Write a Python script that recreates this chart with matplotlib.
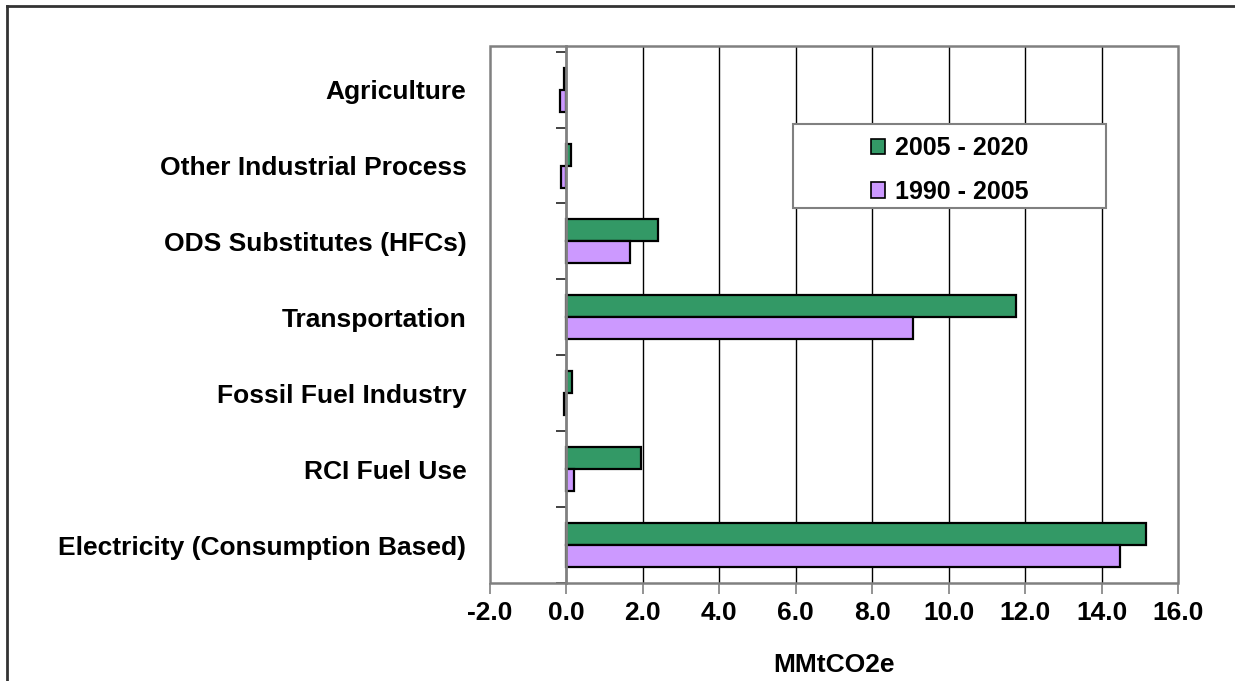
import matplotlib
matplotlib.use("Agg")
import matplotlib.pyplot as plt
import numpy as np
from matplotlib.patches import Rectangle
from matplotlib.lines import Line2D

# Sectors, listed bottom to top
categories = [
    "Electricity (Consumption Based)",
    "RCI Fuel Use",
    "Fossil Fuel Industry",
    "Transportation",
    "ODS Substitutes (HFCs)",
    "Other Industrial Process",
    "Agriculture",
]
growth_2005_2020 = [15.17, 1.94, 0.14, 11.76, 2.40, 0.12, -0.07]
growth_1990_2005 = [14.48, 0.20, -0.07, 9.07, 1.67, -0.14, -0.16]
series_labels = ["2005 - 2020", "1990 - 2005"]
x_ticks = [-2.0, 0.0, 2.0, 4.0, 6.0, 8.0, 10.0, 12.0, 14.0, 16.0]

green = "#339966"
purple = "#CC99FF"
frame_gray = "#808080"
FS = 19

plt.rcParams["font.family"] = ["Liberation Sans", "DejaVu Sans"]
plt.rcParams["font.weight"] = "bold"

fig = plt.figure(figsize=(12.35, 6.81), dpi=100)
ax = fig.add_axes([490 / 1235, 1 - 583 / 681, 688 / 1235, 537 / 681])

y = np.arange(len(categories))
h = 0.29
ax.barh(y + h / 2, growth_2005_2020, height=h, color=green,
        edgecolor="black", linewidth=1.6, zorder=3)
ax.barh(y - h / 2, growth_1990_2005, height=h, color=purple,
        edgecolor="black", linewidth=1.6, zorder=3)

ax.set_xlim(x_ticks[0], x_ticks[-1])
ax.set_ylim(-0.5, len(categories) - 0.425)

# vertical gridlines inside the plot area
for xv in x_ticks[2:-1]:
    ax.axvline(xv, color="black", linewidth=1, zorder=1)

# value axis at the bottom
ax.set_xticks(x_ticks)
ax.set_xticklabels([f"{v:.1f}" for v in x_ticks], fontsize=FS, fontweight="bold")
ax.tick_params(axis="x", direction="out", length=8, width=1.2, color=frame_gray, pad=5)
ax.set_xlabel("MMtCO2e", fontsize=FS, fontweight="bold", labelpad=20)

# category axis crossing at zero
for side in ["top", "right", "bottom"]:
    ax.spines[side].set_visible(False)
ax.spines["left"].set_position(("data", 0))
ax.spines["left"].set_color(frame_gray)
ax.spines["left"].set_linewidth(2)
ax.spines["left"].set_zorder(4)
ax.set_yticks(y)
ax.set_yticklabels(categories, fontsize=FS, fontweight="bold")
ax.set_yticks(np.arange(len(categories) + 1) - 0.5, minor=True)
ax.tick_params(axis="y", which="major", length=0, pad=72)
ax.tick_params(axis="y", which="minor", direction="out", length=7, width=1.2, color="#222222")

# plot-area border
ax.add_patch(Rectangle((0, 0), 1, 1, transform=ax.transAxes, fill=False,
                       edgecolor=frame_gray, linewidth=1.8, zorder=5, clip_on=False))

# legend in a wide box
lx0, ly0, lw, lh = (793 - 490) / 688, (583 - 208) / 537, 313 / 688, 84 / 537
ax.add_patch(Rectangle((lx0, ly0), lw, lh, transform=ax.transAxes, facecolor="white",
                       edgecolor=frame_gray, linewidth=1.5, zorder=6))
handles = [Rectangle((0, 0), 1, 1, facecolor=c, edgecolor="black", linewidth=1.2)
           for c in (green, purple)]
leg = ax.legend(handles, series_labels, loc="center",
                bbox_to_anchor=(lx0 + lw / 2, ly0 + lh / 2 - 4 / 537), frameon=False,
                prop={"size": 18, "weight": "bold"}, handlelength=0.56,
                handleheight=0.56, handletextpad=0.4, labelspacing=0.79)
leg.set_zorder(7)

# outer chart border
fig.add_artist(Line2D([7 / 1235, 1], [1 - 6 / 681, 1 - 6 / 681], transform=fig.transFigure,
                      color="#333333", linewidth=2))
fig.add_artist(Line2D([7 / 1235, 7 / 1235], [0, 1 - 6 / 681], transform=fig.transFigure,
                      color="#333333", linewidth=2))

fig.savefig("out.png", dpi=100)
